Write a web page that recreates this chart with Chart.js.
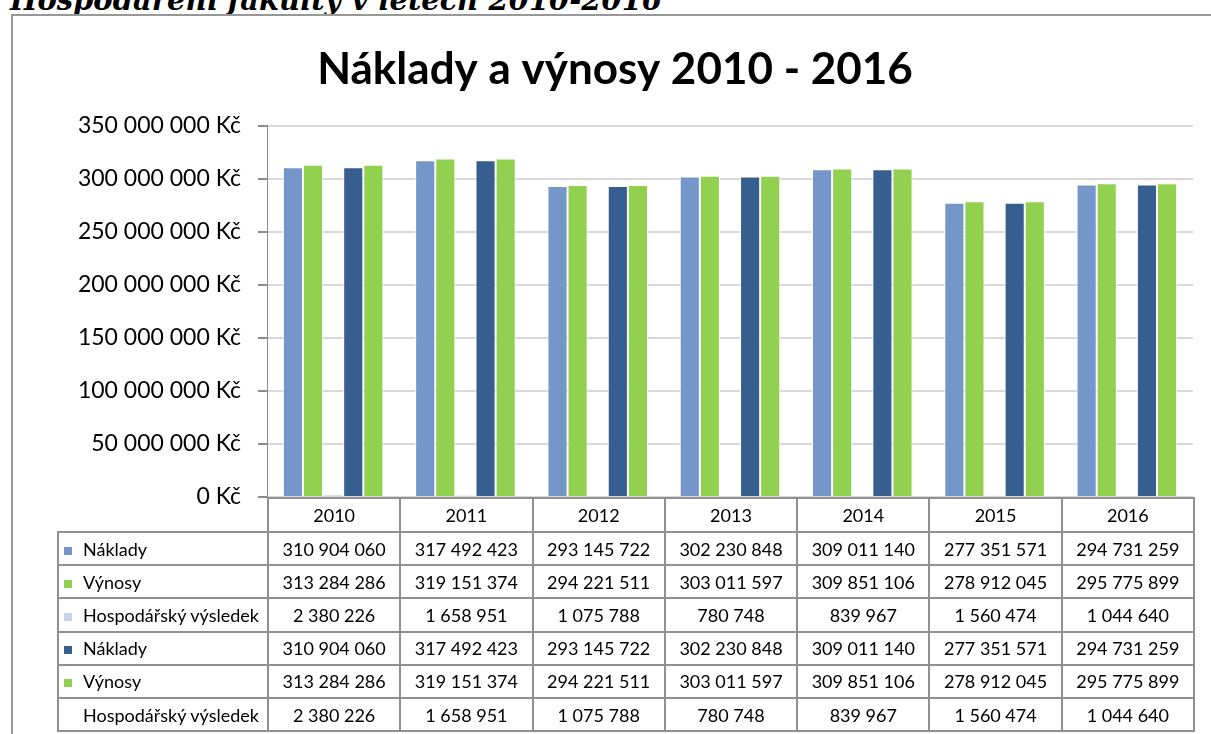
<!DOCTYPE html>
<html lang="cs">
<head>
<meta charset="utf-8">
<title>Náklady a výnosy 2010 - 2016</title>
<script src="https://cdn.jsdelivr.net/npm/chart.js@4.4.1/dist/chart.umd.min.js"></script>
<style>
    html, body { margin: 0; padding: 0; background: #fff; width: 1211px; height: 734px; overflow: hidden; }
    #nadpis { position: absolute; left: 10px; top: -17px; font: italic bold 29px "DejaVu Serif", serif; white-space: nowrap; color: #000; }
    #ramec { position: absolute; left: 11px; top: 14px; width: 1200px; height: 720px; border-left: 2px solid #989898; border-top: 2px solid #989898; box-sizing: border-box; }
    #graf { position: absolute; left: 0; top: 0; }
    #tabulka { position: absolute; border-collapse: collapse; table-layout: fixed; font: 18px Lato, sans-serif; color: #000; }
    #tabulka td { border: 2px solid #909090; padding: 0; text-align: center; white-space: nowrap; }
    #tabulka td.nazev { text-align: left; padding-left: 5px; }
    #tabulka td.prazdna { border: none; }
    .klic { display: inline-block; width: 8px; height: 8px; margin-right: 11px; vertical-align: 1px; }
</style>
</head>
<body>
<div id="nadpis">Hospodaření fakulty v letech 2010-2016</div>
<div id="ramec"><canvas id="graf" width="1198" height="718"></canvas></div>

<script>
// Data z tabulky grafu
const roky = ['2010', '2011', '2012', '2013', '2014', '2015', '2016'];
const naklady = [310904060, 317492423, 293145722, 302230848, 309011140, 277351571, 294731259];
const vynosy = [313284286, 319151374, 294221511, 303011597, 309851106, 278912045, 295775899];
const vysledek = [2380226, 1658951, 1075788, 780748, 839967, 1560474, 1044640];
const osaY = [0, 50000000, 100000000, 150000000, 200000000, 250000000, 300000000, 350000000];

// Řádky tabulky pod grafem (poslední řada nemá sloupec)
const radky = [
    { nazev: 'Náklady', data: naklady, barva: '#7596c8' },
    { nazev: 'Výnosy', data: vynosy, barva: '#92d050' },
    { nazev: 'Hospodářský výsledek', data: vysledek, barva: '#c6d3e8' },
    { nazev: 'Náklady', data: naklady, barva: '#365e8f' },
    { nazev: 'Výnosy', data: vynosy, barva: '#92d050' },
    { nazev: 'Hospodářský výsledek', data: vysledek, barva: null }
];

function cislo(v) {
    return String(v).replace(/\B(?=(\d{3})+(?!\d))/g, ' ');
}

const sloupce = radky.filter(r => r.barva).map(r => ({
    label: r.nazev,
    data: r.data,
    backgroundColor: r.barva,
    borderColor: '#ffffff',
    borderWidth: 1,
    categoryPercentage: 0.76,
    barPercentage: 1.0
}));

const graf = new Chart(document.getElementById('graf'), {
    type: 'bar',
    data: { labels: roky, datasets: sloupce },
    options: {
        responsive: false,
        animation: false,
        layout: { padding: { left: 24, right: 18, top: 0, bottom: 237 } },
        plugins: {
            legend: { display: false },
            tooltip: { enabled: false },
            title: {
                display: true,
                text: 'Náklady a výnosy 2010 - 2016',
                color: '#000',
                font: { family: 'Lato', size: 44, weight: 'bold', lineHeight: 1.2 },
                padding: { top: 27, bottom: 30 }
            }
        },
        scales: {
            x: { display: false },
            y: {
                min: 0,
                max: 350000000,
                afterBuildTicks: s => { s.ticks = osaY.map(v => ({ value: v })); },
                afterFit: s => { s.width = 230; },
                ticks: {
                    color: '#000',
                    font: { family: 'Lato', size: 23 },
                    padding: 17,
                    callback: v => cislo(v) + ' Kč'
                },
                grid: { color: '#d9d9d9', lineWidth: 2, tickLength: 9, tickColor: '#8c8c8c' },
                border: { display: true, color: '#8c8c8c', width: 1 }
            }
        }
    }
});

// Tabulka s hodnotami, sloupce podle osy X
function tabulka() {
    const ca = graf.chartArea;
    const sirka = (ca.right - ca.left) / roky.length;
    const x0 = 13, y0 = 16;
    const t = document.createElement('table');
    t.id = 'tabulka';
    t.style.left = (x0 + ca.left - 210) + 'px';
    t.style.top = (y0 + ca.bottom) + 'px';
    let html = '<colgroup><col style="width:210px">' + roky.map(() => '<col style="width:' + sirka + 'px">').join('') + '</colgroup>';
    html += '<tr style="height:34px"><td class="prazdna"></td>' + roky.map(r => '<td>' + r + '</td>').join('') + '</tr>';
    radky.forEach(r => {
        const klic = r.barva ? '<span class="klic" style="background:' + r.barva + '"></span>' : '<span class="klic"></span>';
        html += '<tr style="height:33.2px"><td class="nazev">' + klic + r.nazev + '</td>' +
            r.data.map(v => '<td>' + cislo(v) + '</td>').join('') + '</tr>';
    });
    t.innerHTML = html;
    document.body.appendChild(t);
}
tabulka();
</script>
</body>
</html>
